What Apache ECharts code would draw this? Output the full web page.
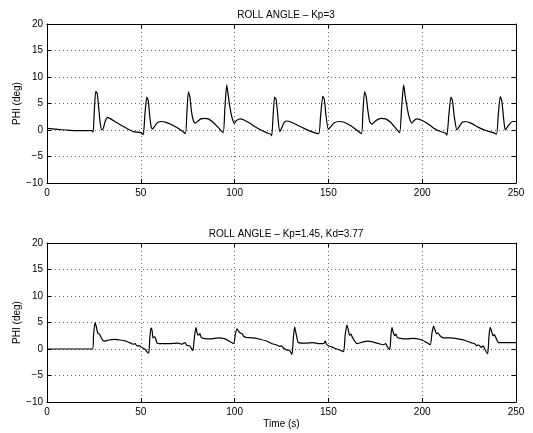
<!DOCTYPE html>
<html>
<head>
<meta charset="utf-8">
<script src="https://cdn.jsdelivr.net/npm/echarts@6/dist/echarts.min.js"></script>
<style>
  html, body { margin: 0; padding: 0; background: #fff; }
  #chart { width: 533px; height: 433px; }
</style>
</head>
<body>
<div id="chart"></div>
<script>
// titles / labels
const titleTop = 'ROLL ANGLE – Kp=3'
const titleBottom = 'ROLL ANGLE – Kp=1.45, Kd=3.77'
const yName = 'PHI (deg)'
const xName = 'Time (s)'

// top plot: Kp=3  (time s, roll deg)
const timeKp = [
  0, 3, 6, 10, 15, 24, 24.6, 25.2, 26, 26.8, 27.6, 28.4, 29.3, 30, 31, 32.3, 34, 37, 40, 43, 46, 50, 51.3,
  52.2, 53.2, 54, 54.8, 55.6, 56.3, 57.5, 59, 61, 63, 66, 69, 72, 73.8,
  74.6, 75.4, 76.2, 77, 78, 79, 80.5, 82, 84, 86, 88, 91, 93.9,
  94.8, 95.8, 96.6, 97.5, 98.5, 99.8, 101, 103, 105, 108, 111, 114, 117, 119.2, 119.8,
  120.5, 121.3, 122.1, 123, 124, 125, 126.2, 127.8, 130, 133, 137, 141, 144.8,
  145.8, 147, 147.8, 148.8, 150, 151.2, 153, 155.5, 158, 161, 164, 167.6,
  168.4, 169.3, 170.1, 171, 172, 173.2, 175, 178, 180.5, 183, 186, 188,
  189, 190.1, 190.9, 191.9, 193, 194.4, 196, 197.5, 200, 203, 206, 209, 212.5, 213.2,
  214.2, 215.3, 216.1, 217.2, 218.5, 219.8, 221.5, 223, 226, 230, 234, 238, 239.6,
  240.6, 241.6, 242.4, 243.3, 244.3, 245.5, 247, 248.3, 250
]
const rollKp = [
  0.3, 0.2, 0.1, 0, -0.1, -0.1, -0.4, 3.5, 7.3, 6.8, 4, 1.2, 0, 0.3, 1.6, 2.4, 2.1, 1.4, 0.8, 0.2, -0.3, -0.5, -0.9,
  3, 6.2, 5.5, 2.5, 0.5, 0.2, 0.8, 1.4, 1.6, 1.5, 1.1, 0.5, -0.2, -0.7,
  3.5, 7.2, 6.2, 3.5, 1.8, 1.3, 1.7, 2.1, 2.2, 2.1, 1.6, 0.6, -0.5,
  4, 8.5, 6.5, 4.3, 2.5, 1.3, 1.8, 2.1, 1.9, 1.3, 0.6, 0, -0.5, -0.8, -1.1,
  2.5, 6.2, 5.8, 2.8, -0.3, 0.3, 1.3, 1.7, 1.5, 1, 0.3, -0.3, -0.7,
  2.5, 6.4, 5.8, 2.5, 0.1, 0.6, 1.3, 1.6, 1.5, 1, 0.3, -0.7,
  3.5, 7.2, 6.4, 3.8, 1.6, 1.1, 1.7, 2.2, 2.1, 1.5, 0.3, -0.5,
  4, 8.5, 6.5, 4.4, 2.5, 1.3, 1.9, 2.1, 1.8, 1.2, 0.4, -0.2, -0.6, -1,
  2.8, 6.2, 5.6, 2.3, 0, 0.7, 1.5, 1.6, 1.3, 0.5, -0.1, -0.5, -0.8,
  3, 6.3, 5.6, 2.5, 0, 0.6, 1.3, 1.6, 1.6
]

// bottom plot: Kp=1.45, Kd=3.77
const timePd = [
  0, 24.3, 24.8, 25.6, 26.3, 27, 28, 28.8, 29.8, 31, 33, 36, 39, 42, 44, 46, 47, 48, 49.5, 50, 51.5, 52.5, 53, 54.2,
  54.8, 55.4, 56, 56.5, 57.2, 57.8, 58.7, 60, 65, 70, 72, 73.5, 74.5, 76, 77, 77.8,
  78.5, 79.4, 80, 80.8, 81.5, 82.2, 83.5, 87, 91, 95, 97, 99.5,
  100.4, 101.3, 102, 103, 104, 104.8, 106, 110, 114, 117, 120, 122, 124, 125, 126, 128, 129, 130.6,
  131.3, 132, 132.6, 133.3, 134, 138, 142, 145, 147.5, 148.3, 149, 150, 153, 156, 158.1,
  158.9, 159.9, 160.6, 161.3, 162, 162.8, 164, 165.2, 168, 171, 174, 177, 179, 180.5, 181.3, 182.7,
  183.3, 183.9, 184.5, 185.3, 186, 186.7, 188.3, 192, 195, 199, 202, 204.3,
  205.2, 206.1, 206.8, 207.7, 208.5, 209.5, 211.4, 215, 219, 223, 226, 228, 229, 230, 231.5, 232.5, 233.6, 234.9,
  235.6, 236.3, 237, 237.8, 238.5, 239.2, 240.8, 245, 250
]
const rollPd = [
  0, 0, 2.5, 5.0, 4.2, 3.0, 2.8, 2.2, 1.6, 1.5, 1.7, 1.8, 1.7, 1.5, 1.2, 0.9, 1.0, 0.6, 0.6, 0.4, 0.1, -0.1, -0.4, -0.8,
  2, 4.0, 3.5, 2.1, 2.3, 2.1, 1.1, 1.0, 1.0, 1.1, 0.9, 1.2, 0.7, 0.6, 0.1, -0.3,
  2, 4.1, 3.0, 2.6, 2.9, 2.2, 2.0, 1.9, 2.1, 1.9, 1.5, 1.0,
  2.8, 3.8, 3.4, 3.0, 2.9, 2.4, 2.2, 2.1, 1.8, 1.5, 1.0, 0.8, 0.5, 0.6, 0.2, -0.2, -0.2, -1.0,
  2, 4.2, 3.2, 2.0, 1.2, 1.1, 1.2, 1.0, 1.0, 1.5, 0.9, 0.6, 0.2, -0.2, -0.5,
  2.5, 4.5, 3.6, 2.6, 2.8, 2.2, 1.5, 1.0, 1.3, 1.5, 1.3, 1.0, 0.8, 1.0, 0.5, -0.1,
  2.4, 4.1, 3.2, 2.5, 2.8, 2.2, 2.0, 1.9, 2.0, 1.8, 1.3, 0.8,
  3, 4.3, 3.6, 2.9, 3.0, 2.5, 2.1, 2.1, 1.9, 1.6, 1.2, 1.0, 0.6, 0.8, 0.3, 0.6, -0.2, -0.9,
  2.5, 4.1, 3.3, 2.5, 2.7, 2.2, 1.2, 1.2, 1.2
]

const xTicks = { min: 0, max: 250, interval: 50 }
const yTicks = { min: -10, max: 20, interval: 5 }

const font = 'Liberation Sans, Arial, Helvetica, sans-serif'

function zip(t, v) {
  return t.map((x, i) => [x, v[i]])
}

function fmt(v) {
  return v < 0 ? '\u2212' + Math.abs(v) : String(v)
}

// fixed boxes, no automatic fitting of labels
const gridBox = { left: 47, width: 469, height: 159, outerBoundsMode: 'none', containLabel: false }
const grids = [
  Object.assign({ top: 24 }, gridBox),
  Object.assign({ top: 243 }, gridBox)
]

const dotted = {
  show: true,
  showMinLine: false,
  showMaxLine: false,
  lineStyle: { color: '#666', width: 1, type: [1, 3] }
}

const frameLine = { show: true, onZero: false, lineStyle: { color: '#000', width: 1 } }
const inTick = { show: true, inside: true, length: 4, lineStyle: { color: '#000' } }

const xAxes = []
const yAxes = []
grids.forEach((g, i) => {
  // bottom / left carry the labels, top / right only the frame and ticks
  xAxes.push({
    type: 'value', gridIndex: i, position: 'bottom',
    min: xTicks.min, max: xTicks.max, interval: xTicks.interval,
    name: i === 1 ? xName : '',
    nameLocation: 'middle', nameGap: 17,
    nameTextStyle: { color: '#000', fontSize: 10, fontFamily: font },
    axisLine: frameLine,
    axisTick: inTick,
    axisLabel: { margin: 5, color: '#000', fontSize: 10, fontFamily: font, formatter: fmt },
    splitLine: dotted
  })
  xAxes.push({
    type: 'value', gridIndex: i, position: 'top',
    min: xTicks.min, max: xTicks.max, interval: xTicks.interval,
    axisLine: frameLine,
    axisTick: inTick,
    axisLabel: { show: false },
    splitLine: { show: false }
  })
  yAxes.push({
    type: 'value', gridIndex: i, position: 'left',
    min: yTicks.min, max: yTicks.max, interval: yTicks.interval,
    name: yName, nameLocation: 'middle', nameGap: 25, nameMoveOverlap: false,
    nameTextStyle: { color: '#000', fontSize: 10, fontFamily: font },
    axisLine: frameLine,
    axisTick: inTick,
    axisLabel: { margin: 4, color: '#000', fontSize: 10, fontFamily: font, formatter: fmt },
    splitLine: dotted
  })
  yAxes.push({
    type: 'value', gridIndex: i, position: 'right',
    min: yTicks.min, max: yTicks.max, interval: yTicks.interval,
    axisLine: frameLine,
    axisTick: inTick,
    axisLabel: { show: false },
    splitLine: { show: false }
  })
})

const titleStyle = { color: '#000', fontSize: 10, fontWeight: 'normal', fontFamily: font }

const chart = echarts.init(document.getElementById('chart'), null, { renderer: 'canvas' })
chart.setOption({
  animation: false,
  backgroundColor: '#fff',
  title: [
    { text: titleTop, left: 281, top: 5, textAlign: 'center', textStyle: titleStyle },
    { text: titleBottom, left: 281, top: 224, textAlign: 'center', textStyle: titleStyle }
  ],
  grid: grids,
  xAxis: xAxes,
  yAxis: yAxes,
  series: [{
    type: 'line', xAxisIndex: 0, yAxisIndex: 0,
    data: zip(timeKp, rollKp),
    showSymbol: false, smooth: 0.2,
    lineStyle: { color: '#000', width: 1.2 }
  }, {
    type: 'line', xAxisIndex: 2, yAxisIndex: 2,
    data: zip(timePd, rollPd),
    showSymbol: false, smooth: 0.2,
    lineStyle: { color: '#000', width: 1.2 }
  }]
})
</script>
</body>
</html>
